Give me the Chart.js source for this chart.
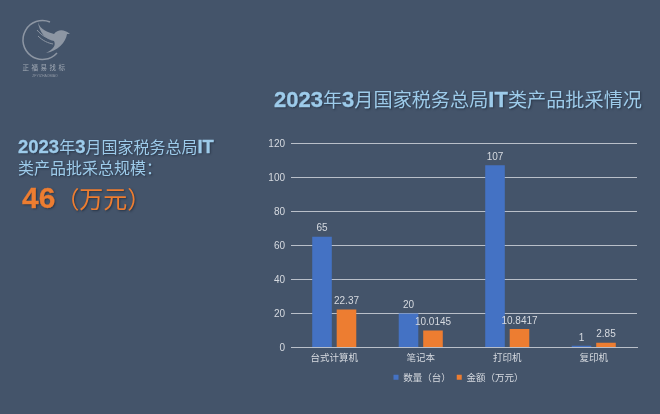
<!DOCTYPE html>
<html>
<head>
<meta charset="utf-8">
<script src="https://cdn.jsdelivr.net/npm/chart.js@4/dist/chart.umd.min.js"></script>
<style>
  html, body { margin: 0; padding: 0; background: #44546a; }
  #wrap { position: relative; width: 660px; height: 414px; overflow: hidden; font-family: "Noto Sans CJK SC", "Liberation Sans", sans-serif; }
  #chart { position: absolute; left: 0; top: 0; }
  .txt { position: absolute; white-space: nowrap; color: #9dcbea; text-shadow: 1px 1px 2px rgba(20,30,45,.6); }
  .txt b { font-family: "Liberation Sans", sans-serif; font-weight: bold; -webkit-text-stroke: .3px currentColor; }
  #title { left: 274px; top: 85px; font-size: 19.15px; line-height: 28px; }
  #title b { font-size: 22px; }
  #sub1 { left: 18px; top: 135px; font-size: 16px; line-height: 23px; }
  #sub1 b { font-size: 18.5px; }
  #sub2 { left: 18px; top: 156px; font-size: 16px; line-height: 23px; }
  #total { left: 22px; top: 181px; font-size: 24px; line-height: 34px; color: #ed7d31; }
  #total b { font-size: 30px; }
  #logo { position: absolute; left: 18px; top: 16px; }
</style>
</head>
<body>
<div id="wrap">
  <canvas id="chart" width="660" height="414"></canvas>
  <svg id="logo" width="60" height="64" viewBox="0 0 60 64">
    <path d="M32 6 A19.5 19.5 0 1 0 39 37" fill="none" stroke="#8d96a3" stroke-width="1.5"/>
    <path d="M20 6 C22 14 30 16 36 18 C40 13 46 13 52 18 L49 18 C48 26 40 35 28 37 C36 33 38 29 36 25 C28 24 21 16 20 6Z" fill="#8d96a3"/>
    <path d="M19 14 C24 20 30 23 36 23 M20 20 C25 25 30 27 35 28" fill="none" stroke="#8d96a3" stroke-width="1"/>
    <text x="27" y="54" text-anchor="middle" font-size="6.5" letter-spacing="2.5" fill="#a3abb6" font-family="Noto Sans CJK SC">正福易找标</text>
    <text x="27" y="61" text-anchor="middle" font-size="3.5" fill="#8d96a3" font-family="Liberation Sans">ZFYIZHAOBIAO</text>
  </svg>
  <div class="txt" id="title"><b>2023</b>年<b>3</b>月国家税务总局<b>IT</b>类产品批采情况</div>
  <div class="txt" id="sub1"><b>2023</b>年<b>3</b>月国家税务总局<b>IT</b></div>
  <div class="txt" id="sub2">类产品批采总规模：</div>
  <div class="txt" id="total"><b>46</b>（万元）</div>
</div>
<script>
const categories = ['台式计算机', '笔记本', '打印机', '复印机']
const quantity = [65, 20, 107, 1]
const amount = [22.37, 10.0145, 10.8417, 2.85]
const quantityName = '数量（台）'
const amountName = '金额（万元）'
const yTicks = [0, 20, 40, 60, 80, 100, 120]

const textColor = '#d6dae0'
const fontFamily = '"Noto Sans CJK SC", "Liberation Sans", sans-serif'

// value labels above each bar
const barLabels = {
    id: 'barLabels',
    afterDatasetsDraw(chart) {
        const ctx = chart.ctx
        ctx.save()
        ctx.font = '10px "Liberation Sans", sans-serif'
        ctx.fillStyle = textColor
        ctx.textAlign = 'center'
        ctx.textBaseline = 'middle'
        chart.data.datasets.forEach((ds, i) => {
            chart.getDatasetMeta(i).data.forEach((bar, j) => {
                ctx.fillText(String(ds.data[j]), bar.x, bar.y - 8)
            })
        })
        ctx.restore()
    }
}

// the legend sits under the plot, not under the whole page
const legendShift = {
    id: 'legendShift',
    afterLayout(chart) {
        chart.legend.left += 140
        chart.legend.right += 140
    }
}

new Chart(document.getElementById('chart'), {
    type: 'bar',
    data: {
        labels: categories,
        datasets: [
            { label: quantityName, data: quantity, backgroundColor: '#4472c4', categoryPercentage: 0.566, barPercentage: 0.8 },
            { label: amountName, data: amount, backgroundColor: '#ed7d31', categoryPercentage: 0.566, barPercentage: 0.8 }
        ]
    },
    options: {
        responsive: false,
        animation: { duration: 0 },
        layout: { padding: { top: 143, right: 23, bottom: 22, left: 0 } },
        scales: {
            x: {
                grid: { display: false, drawTicks: false },
                border: { color: '#b9bfc9' },
                ticks: { color: textColor, font: { size: 9.5, family: fontFamily }, maxRotation: 0, padding: 4 },
                afterFit(scale) { scale.height = 19 }
            },
            y: {
                min: 0,
                max: 120,
                afterBuildTicks(scale) { scale.ticks = yTicks.map(v => ({ value: v })) },
                grid: { color: '#b9bfc9', drawTicks: false },
                border: { display: false },
                ticks: { color: textColor, font: { size: 10, family: '"Liberation Sans", sans-serif' }, padding: 6, labelOffset: 1 },
                afterFit(scale) { scale.width = 291 }
            }
        },
        plugins: {
            legend: {
                position: 'bottom',
                labels: { color: textColor, font: { size: 9.5, family: fontFamily }, boxWidth: 5, boxHeight: 5, padding: 6 }
            },
            tooltip: { enabled: false }
        }
    },
    plugins: [barLabels, legendShift]
})
</script>
</body>
</html>
